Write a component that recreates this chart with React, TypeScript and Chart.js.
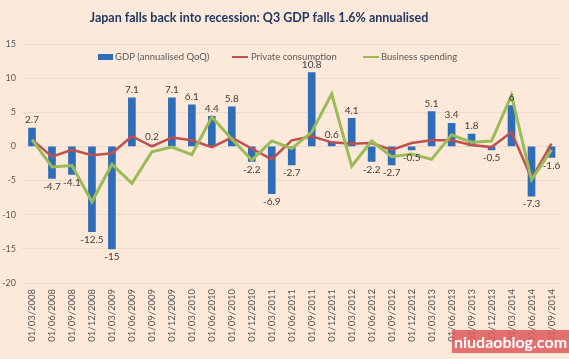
import React, { useEffect, useRef } from 'react';
import { Chart, registerables } from 'chart.js';
Chart.register(...registerables);

const titleText = 'Japan falls back into recession: Q3 GDP falls 1.6% annualised';
const quarters = [
  '01/03/2008', '01/06/2008', '01/09/2008', '01/12/2008',
  '01/03/2009', '01/06/2009', '01/09/2009', '01/12/2009',
  '01/03/2010', '01/06/2010', '01/09/2010', '01/12/2010',
  '01/03/2011', '01/06/2011', '01/09/2011', '01/12/2011',
  '01/03/2012', '01/06/2012', '01/09/2012', '01/12/2012',
  '01/03/2013', '01/06/2013', '01/09/2013', '01/12/2013',
  '01/03/2014', '01/06/2014', '01/09/2014',
];
const gdp = [2.7, -4.7, -4.1, -12.5, -15, 7.1, 0.2, 7.1, 6.1, 4.4, 5.8, -2.2, -6.9, -2.7, 10.8, 0.6, 4.1, -2.2, -2.7, -0.5, 5.1, 3.4, 1.8, -0.5, 6, -7.3, -1.6];
const consumption = [1.0, -1.5, -0.5, -1.3, -1.0, 1.5, 0.0, 1.3, 0.9, -0.1, 1.3, -0.3, -1.9, 0.9, 1.5, 0.6, 0.4, 0.5, -0.5, 0.5, 0.9, 0.9, 0.2, -0.1, 2.1, -4.7, 0.4];
const business = [1.0, -3.0, -2.8, -8.1, -2.6, -5.4, -0.8, -0.1, -1.2, 4.3, 1.1, -2.0, 0.8, -0.3, 2.1, 7.7, -2.9, 0.8, -1.5, -1.1, -1.9, 1.7, 0.6, 0.8, 7.5, -4.9, -0.5];
const seriesNames = ['GDP (annualised QoQ)', 'Private consumption', 'Business spending'];
const yMin = -20;
const yMax = 15;
const yStep = 5;

const BLUE = '#2E6DB8';
const RED = '#C0504D';
const GREEN = '#9BBB59';
const TEXT = '#595959';
const FONT = 'Lato, "Open Sans", sans-serif';

const overlayPlugin = {
  id: 'overlay',
  afterDatasetsDraw(chart: any) {
    const ctx = chart.ctx;
    const meta = chart.getDatasetMeta(0);
    ctx.save();
    ctx.font = `10px ${FONT}`;
    ctx.fillStyle = '#404040';
    ctx.textAlign = 'center';
    meta.data.forEach((el: any, i: number) => {
      const v = gdp[i];
      if (v >= 0) {
        ctx.textBaseline = 'bottom';
        ctx.fillText(String(v), el.x, el.y - 3);
      } else {
        ctx.textBaseline = 'top';
        ctx.fillText(String(v), el.x, el.y + 3);
      }
    });
    ctx.restore();
  },
  afterDraw(chart: any) {
    const ctx = chart.ctx;
    ctx.save();
    ctx.font = `bold 12.5px ${FONT}`;
    ctx.fillStyle = '#1F3864';
    ctx.textAlign = 'center';
    ctx.textBaseline = 'middle';
    ctx.fillText(titleText, 259, 18);
    const ly = 57;
    ctx.font = `9.5px ${FONT}`;
    ctx.textAlign = 'left';
    ctx.textBaseline = 'middle';
    ctx.fillStyle = BLUE;
    ctx.fillRect(98, ly - 3, 15, 6);
    ctx.fillStyle = TEXT;
    ctx.fillText(seriesNames[0], 115, ly);
    ctx.strokeStyle = RED;
    ctx.lineWidth = 2;
    ctx.beginPath();
    ctx.moveTo(232, ly);
    ctx.lineTo(248, ly);
    ctx.stroke();
    ctx.fillText(seriesNames[1], 251, ly);
    ctx.strokeStyle = GREEN;
    ctx.beginPath();
    ctx.moveTo(363, ly);
    ctx.lineTo(379, ly);
    ctx.stroke();
    ctx.fillText(seriesNames[2], 381, ly);
    ctx.restore();
  },
};

export default function App() {
  const ref = useRef<HTMLCanvasElement>(null);
  useEffect(() => {
    document.body.style.margin = '0';
    const chart = new Chart(ref.current as HTMLCanvasElement, {
      type: 'bar',
      data: {
        labels: quarters,
        datasets: [
          {
            type: 'bar',
            label: seriesNames[0],
            data: gdp,
            backgroundColor: BLUE,
            barThickness: 7,
            order: 3,
          },
          {
            type: 'line',
            label: seriesNames[1],
            data: consumption,
            borderColor: RED,
            borderWidth: 2.5,
            pointRadius: 0,
            tension: 0,
            order: 2,
          },
          {
            type: 'line',
            label: seriesNames[2],
            data: business,
            borderColor: GREEN,
            borderWidth: 3,
            pointRadius: 0,
            tension: 0,
            order: 1,
          },
        ] as any,
      },
      options: {
        animation: false,
        responsive: false,
        maintainAspectRatio: false,
        layout: { padding: { top: 44, right: 6, left: 0, bottom: 0 } },
        plugins: {
          legend: { display: false },
          title: { display: false },
          tooltip: { enabled: false },
        },
        scales: {
          x: {
            offset: true,
            grid: { display: false, drawTicks: false },
            border: { display: false },
            ticks: {
              autoSkip: false,
              maxRotation: 90,
              minRotation: 90,
              padding: 6,
              color: TEXT,
              font: { family: FONT, size: 9.5 },
            },
            afterFit(s: any) { s.height = 76; },
          },
          y: {
            min: yMin,
            max: yMax,
            grid: { color: '#EEDACD', drawTicks: false, lineWidth: 1 },
            border: { display: false },
            ticks: {
              stepSize: yStep,
              padding: 6,
              color: TEXT,
              font: { family: FONT, size: 9 },
            },
            afterFit(s: any) { s.width = 22; },
          },
        },
      },
      plugins: [overlayPlugin],
    });
    return () => chart.destroy();
  }, []);
  return (
    <div style={{ position: 'fixed', left: 0, top: 0, width: 569, height: 359, background: '#FDE9D9', overflow: 'hidden' }}>
      <canvas ref={ref} width={569} height={359} style={{ position: 'absolute', left: 0, top: 0 }} />
      <div style={{ position: 'absolute', left: 452, top: 330, width: 117, height: 23, background: 'rgba(222,90,90,0.85)', color: '#fff', font: `bold 16px ${FONT}`, lineHeight: '23px', textAlign: 'center' }}>niudaoblog.com</div>
    </div>
  );
}
